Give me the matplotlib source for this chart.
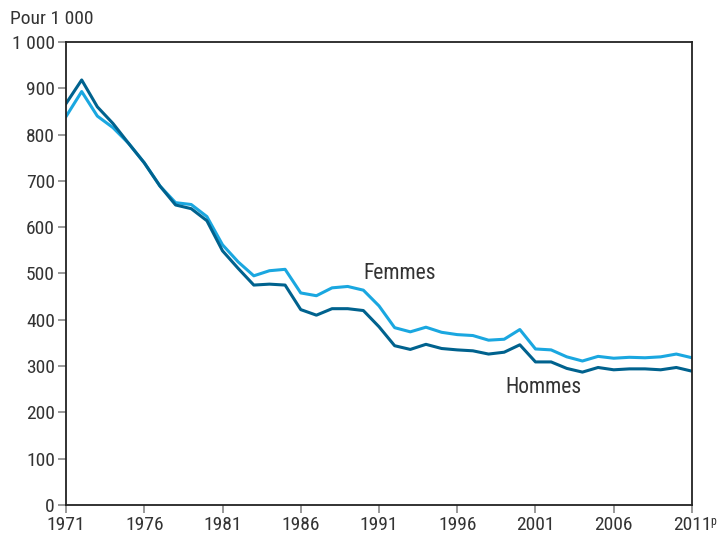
import numpy as np
import matplotlib.pyplot as plt

years = list(range(1971, 2012))
hommes = [867, 918, 860, 824, 781, 739, 689, 648, 640, 614,
          549, 511, 475, 477, 475, 422, 410, 424, 424, 420,
          385, 344, 336, 347, 338, 335, 333, 326, 330, 346,
          309, 309, 295, 287, 297, 292, 294, 294, 292, 297, 289]
femmes = [839, 893, 840, 815, 781, 739, 689, 653, 649, 623,
          562, 525, 495, 506, 509, 458, 452, 469, 472, 464,
          430, 383, 374, 384, 373, 368, 366, 356, 358, 379,
          337, 335, 320, 311, 321, 317, 319, 318, 320, 326, 318]
xticks = [1971, 1976, 1981, 1986, 1991, 1996, 2001, 2006, 2011]
yticks = [0, 100, 200, 300, 400, 500, 600, 700, 800, 900, 1000]

plt.rcParams['font.family'] = ['Liberation Sans Narrow', 'Roboto Condensed',
                               'Roboto', 'DejaVu Sans']
txt = '#333333'

fig = plt.figure(figsize=(7.28, 5.37), dpi=100)
ax = fig.add_axes([0.0907, 0.0596, 0.8598, 0.8622])

ax.plot(years, femmes, color='#1aa7e0', lw=2.2)
ax.plot(years, hommes, color='#00628e', lw=2.2)

ax.set_xlim(1971, 2011)
ax.set_ylim(0, 1000)
ax.set_xticks(xticks)
ax.set_xticklabels([str(y) for y in xticks])
ax.set_yticks(yticks)
ax.set_yticklabels([f"{v:,}".replace(',', ' ') for v in yticks])
ax.tick_params(direction='out', length=6, width=1.2, color='#888888',
               labelsize=14, labelcolor=txt, pad=2)
for s in ax.spines.values():
    s.set_linewidth(1.3)
    s.set_color('#222222')

ax.text(2012.2, -22, 'p', fontsize=8.5, color=txt, ha='left', va='top')
fig.text(0.014, 0.965, 'Pour 1 000', fontsize=14, color=txt, ha='left', va='center')
ax.text(1990.0, 501, 'Femmes', fontsize=15.5, color=txt, ha='left', va='center')
ax.text(1999.1, 253, 'Hommes', fontsize=15.5, color=txt, ha='left', va='center')

fig.savefig('out.png', dpi=100)
